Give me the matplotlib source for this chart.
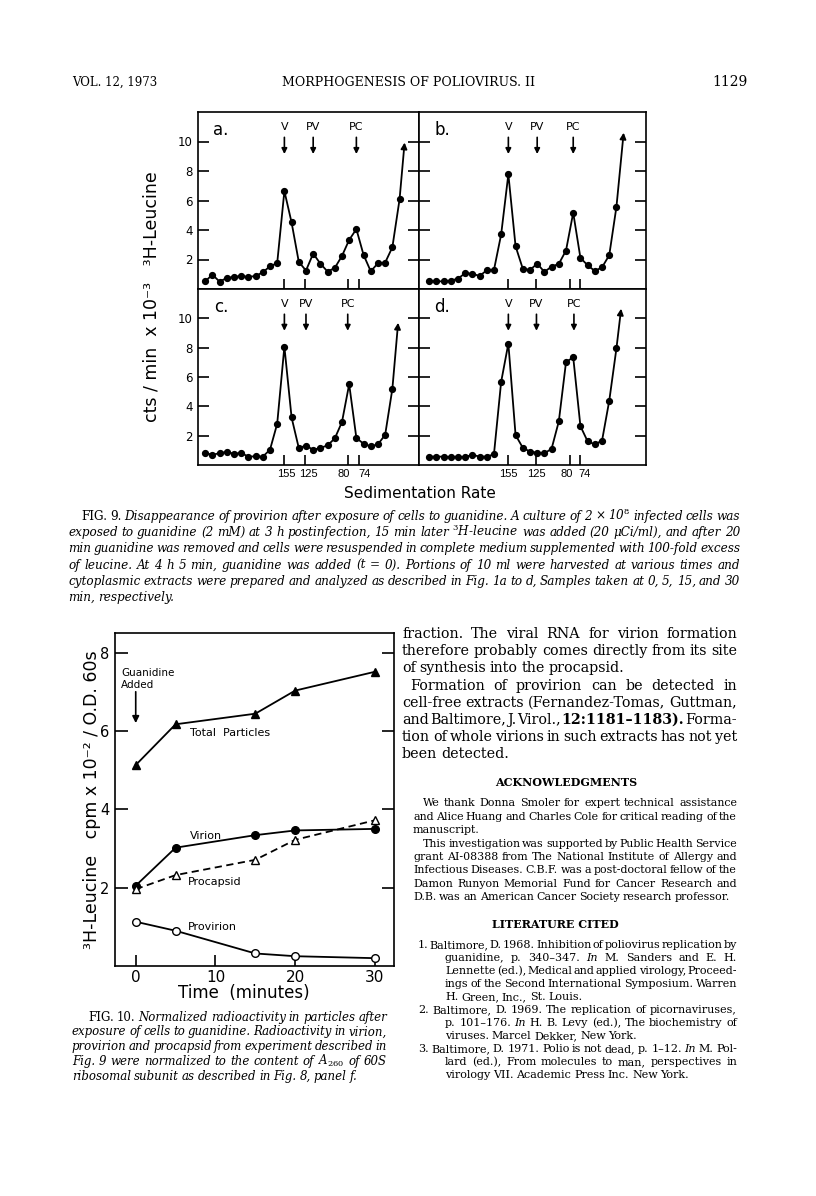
import numpy as np
import matplotlib.pyplot as plt
import matplotlib.transforms as mtransforms

W, H = 816, 1196
SERIF = ['DejaVu Serif']
SANS = ['DejaVu Sans']
plt.rcParams['mathtext.fontset'] = 'dejavuserif'

# ---------------- Fig. 9 data (cts/min x 10^-3 per fraction) ----------------
a_cpm = [0.52, 0.97, 0.50, 0.75, 0.82, 0.88, 0.82, 0.88, 1.13, 1.54, 1.75, 6.64, 4.51, 1.84,
         1.25, 2.40, 1.72, 1.18, 1.43, 2.24, 3.33, 4.06, 2.31, 1.20, 1.75, 1.79, 2.83, 6.08]
b_cpm = [0.52, 0.52, 0.52, 0.57, 0.70, 1.07, 1.04, 0.88, 1.27, 1.29, 3.70, 7.78, 2.90, 1.38,
         1.29, 1.72, 1.16, 1.52, 1.70, 2.61, 5.17, 2.11, 1.61, 1.22, 1.47, 2.29, 5.58]
c_cpm = [0.84, 0.68, 0.82, 0.88, 0.77, 0.82, 0.57, 0.59, 0.57, 1.04, 2.81, 8.07, 3.24, 1.16,
         1.32, 1.04, 1.16, 1.34, 1.81, 2.93, 5.51, 1.84, 1.45, 1.27, 1.41, 2.06, 5.19]
d_cpm = [0.57, 0.57, 0.57, 0.54, 0.57, 0.54, 0.70, 0.57, 0.57, 0.73, 5.67, 8.28, 2.04, 1.18,
         0.91, 0.84, 0.79, 1.11, 2.97, 7.01, 7.35, 2.65, 1.61, 1.41, 1.66, 4.38, 7.96]
# where the off-scale arrow ends
a_tip = (28.7, 9.93)
b_tip = (28.0, 10.6)
c_tip = (27.8, 9.7)
d_tip = (27.65, 10.66)
# fraction positions of V / PV / PC arrows
peak_names = ['V', 'PV', 'PC']
a_peaks = [12, 16, 22]
b_peaks = [12, 16, 21]
c_peaks = [12, 15.0, 20.8]
d_peaks = [12, 15.9, 21.1]
# sedimentation markers
sed_labels = ['155', '125', '80', '74']
left_marks = [12, 14.8, 20.85, 22.4]
right_marks = [12, 15.9, 20.5, 22.0]

# ---------------- Fig. 10 data ----------------
time_min = [0, 5, 15, 20, 30]
total = [5.13, 6.17, 6.44, 7.03, 7.51]
virion = [2.05, 3.02, 3.34, 3.46, 3.50]
procapsid = [1.96, 2.32, 2.71, 3.22, 3.72]
provirion = [1.13, 0.90, 0.32, 0.25, 0.20]

fig = plt.figure(figsize=(W / 100, H / 100), dpi=100)
rend = fig.canvas.get_renderer()


def box(x0, y0, x1, y1):
    return [x0 / W, 1 - y1 / H, (x1 - x0) / W, (y1 - y0) / H]


def words_of(text, y, size, style):
    arts = []
    for w in text.split():
        st, wt = style, 'normal'
        if w[0] == '|':
            w = w[1:]
            st = 'normal' if style == 'italic' else 'italic'
        elif w[0] == '#':
            w = w[1:]
            wt = 'bold'
        arts.append(fig.text(0, 1 - y / H, w, fontsize=size, family=SERIF, style=st,
                             weight=wt, va='baseline', ha='left'))
    return arts


def paragraph(lines, x1, y0, dy, size, style='normal'):
    # lines: (text, left x, justified?) ; font size is fitted so justified lines
    # keep roughly natural word spacing between their left x and x1
    ratios = []
    for text, x0, just in lines:
        if not just:
            continue
        arts = words_of(text, 0, size, style)
        nat = sum(t.get_window_extent(rend).width for t in arts)
        nat += size * 100 / 72 * 0.25 * (len(arts) - 1)
        ratios.append((x1 - x0) / nat)
        for t in arts:
            t.remove()
    size = size * float(np.median(ratios))
    for i, (text, x0, just) in enumerate(lines):
        y = y0 + dy * i + 0.3 * size * 100 / 72
        arts = words_of(text, y, size, style)
        ws = [t.get_window_extent(rend).width for t in arts]
        sp = size * 100 / 72 * 0.25
        if just and len(arts) > 1:
            sp = (x1 - x0 - sum(ws)) / (len(arts) - 1)
            if sp < 1.5:  # a bit too long: squeeze this line
                k = (x1 - x0 - 1.5 * (len(arts) - 1)) / sum(ws)
                for t in arts:
                    t.set_fontsize(size * k)
                ws = [t.get_window_extent(rend).width for t in arts]
                sp = (x1 - x0 - sum(ws)) / (len(arts) - 1)
        x = x0
        for t, w in zip(arts, ws):
            t.set_x(x / W)
            x += w + sp


# ---------------- header ----------------
fig.text(72 / W, 1 - 82 / H, 'VOL. 12, 1973', fontsize=8.5, family=SERIF, va='center')
fig.text(408 / W, 1 - 82 / H, 'MORPHOGENESIS OF POLIOVIRUS. II', fontsize=9, family=SERIF,
         va='center', ha='center')
fig.text(748 / W, 1 - 82 / H, '1129', fontsize=10, family=SERIF, va='center', ha='right')

# ---------------- Fig. 9 ----------------
panels = [
    ('a.', a_cpm, a_tip, a_peaks, left_marks, box(198, 112, 419, 289), (0, 30.7), True, False),
    ('b.', b_cpm, b_tip, b_peaks, right_marks, box(419, 112, 646, 289), (-0.4, 31.1), False, False),
    ('c.', c_cpm, c_tip, c_peaks, left_marks, box(198, 289, 419, 465), (0, 30.7), True, True),
    ('d.', d_cpm, d_tip, d_peaks, right_marks, box(419, 289, 646, 465), (-0.4, 31.1), False, True),
]
for letter, cpm, tip, peaks, marks, pos, xl, ylab, xlab in panels:
    ax = fig.add_axes(pos)
    x = np.arange(1, len(cpm) + 1)
    ax.plot(x, cpm, '-o', color='black', lw=1.3, ms=4.2)
    ax.annotate('', xy=tip, xytext=(x[-1], cpm[-1]),
                arrowprops=dict(arrowstyle='-|>', color='black', lw=1.3,
                                mutation_scale=9, shrinkA=0, shrinkB=0))
    for name, p in zip(peak_names, peaks):
        ax.annotate(name, xy=(p, 9.15), xytext=(p, 10.95), ha='center', va='center',
                    fontsize=8, family=SANS,
                    arrowprops=dict(arrowstyle='-|>', color='black', lw=1.2,
                                    mutation_scale=8, shrinkA=1.5, shrinkB=0))
    ax.text(xl[0] + 3.2, 10.8, letter, fontsize=12, family=SANS, va='center', ha='center')
    ax.set_xlim(*xl)
    ax.set_ylim(0, 12)
    ax.set_yticks([2, 4, 6, 8, 10])
    ax.set_yticklabels(['2', '4', '6', '8', '10'] if ylab else [])
    ax.set_xticks(marks)
    ax.set_xticklabels(sed_labels if xlab else [])
    ax.tick_params(axis='y', direction='in', length=8, width=1.2, left=True, right=True,
                   labelsize=8.5, pad=4)
    ax.tick_params(axis='x', direction='in', length=7, width=1.2, bottom=True, top=False,
                   labelsize=8, pad=3)
    if xlab:
        # nudge the crowded sedimentation labels apart (pixels)
        shifts = [2, 4, -4, 5] if ylab else [0, 0, -3, 4]
        for lab, s in zip(ax.get_xticklabels(), shifts):
            lab.set_family(['Liberation Sans'])
            lab.set_transform(lab.get_transform() +
                              mtransforms.ScaledTranslation(s / 100, 0, fig.dpi_scale_trans))
    for s in ax.spines.values():
        s.set_linewidth(1.2)

fig.text(152 / W, 1 - 297 / H, 'cts / min  x 10⁻³   ³H-Leucine', rotation=90, fontsize=12.5,
         family=SANS, ha='center', va='center')
fig.text(420 / W, 1 - 493 / H, 'Sedimentation Rate', fontsize=11, family=SANS,
         ha='center', va='center')

cap9 = [
    ('|FIG. |9. Disappearance of provirion after exposure of cells to guanidine. A culture of 2 × 10$^{8}$ infected cells was', 81, True),
    ('exposed to guanidine (2 mM) at 3 h postinfection, 15 min later $^{3}$H-leucine was added (20 μCi/ml), and after 20', 68, True),
    ('min guanidine was removed and cells were resuspended in complete medium supplemented with 100-fold excess', 68, True),
    ('of leucine. At 4 h 5 min, guanidine was added (t = 0). Portions of 10 ml were harvested at various times and', 68, True),
    ('cytoplasmic extracts were prepared and analyzed as described in Fig. 1a to d, Samples taken at 0, 5, 15, and 30', 68, True),
    ('min, respectively.', 68, False),
]
paragraph(cap9, 740, 516, 16.3, 9.5, style='italic')

# ---------------- Fig. 10 ----------------
ax = fig.add_axes(box(115, 633, 394, 966))
ax.plot(time_min, total, '-^', color='black', lw=1.3, ms=6)
ax.plot(time_min, virion, '-o', color='black', lw=1.3, ms=5.5)
ax.plot(time_min, procapsid, '--^', color='black', lw=1.3, ms=5.5, mfc='white', dashes=(4, 2.5))
ax.plot(time_min, provirion, '-o', color='black', lw=1.3, ms=5.5, mfc='white')
ax.set_xlim(-2.6, 32.4)
ax.set_ylim(0, 8.5)
ax.set_xticks([0, 10, 20, 30])
ax.set_yticks([2, 4, 6, 8])
ax.tick_params(axis='y', direction='in', length=9, width=1.2, left=True, right=True,
               labelsize=10.5, pad=4)
ax.tick_params(axis='x', direction='in', length=8, width=1.2, bottom=True, top=False,
               labelsize=11, pad=3)
for s in ax.spines.values():
    s.set_linewidth(1.2)
ax.text(-1.8, 7.32, 'Guanidine\nAdded', fontsize=7.5, family=SANS, ha='left', va='center',
        linespacing=1.3)
ax.annotate('', xy=(0, 6.2), xytext=(0, 7.0),
            arrowprops=dict(arrowstyle='-|>', color='black', lw=1.2, mutation_scale=10,
                            shrinkA=0, shrinkB=0))
ax.text(6.8, 5.94, 'Total  Particles', fontsize=8, family=SANS, va='center')
ax.text(6.85, 3.32, 'Virion', fontsize=8, family=SANS, va='center')
ax.text(6.6, 2.15, 'Procapsid', fontsize=8, family=SANS, va='center')
ax.text(6.6, 0.99, 'Provirion', fontsize=8, family=SANS, va='center')

fig.text(244 / W, 1 - 993 / H, 'Time  (minutes)', fontsize=12, family=SANS,
         ha='center', va='center')
fig.text(92 / W, 1 - 800 / H, '³H-Leucine   cpm x 10⁻² / O.D. 60s', rotation=90,
         fontsize=12.5, family=SANS, ha='center', va='center')

cap10 = [
    ('|FIG. |10. Normalized radioactivity in particles after', 88, True),
    ('exposure of cells to guanidine. Radioactivity in virion,', 72, True),
    ('provirion and procapsid from experiment described in', 72, True),
    ('Fig. 9 were normalized to the content of A$_{260}$ of 60S', 72, True),
    ('ribosomal subunit as described in Fig. 8, panel f.', 72, False),
]
paragraph(cap10, 387, 1017, 14.8, 9.3, style='italic')

# ---------------- right column text ----------------
body = [
    ('fraction. The viral RNA for virion formation', 402, True),
    ('therefore probably comes directly from its site', 402, True),
    ('of synthesis into the procapsid.', 402, False),
    ('Formation of provirion can be detected in', 410, True),
    ('cell-free extracts (Fernandez-Tomas, Guttman,', 402, True),
    ('and Baltimore, J. Virol., #12:1181–1183). Forma-', 402, True),
    ('tion of whole virions in such extracts has not yet', 402, True),
    ('been detected.', 402, False),
]
paragraph(body, 737, 634, 17.1, 10.5)

fig.text(566 / W, 1 - 783 / H, 'ACKNOWLEDGMENTS', fontsize=8, family=SERIF,
         weight='bold', ha='center', va='center')
ack = [
    ('We thank Donna Smoler for expert technical assistance', 423, True),
    ('and Alice Huang and Charles Cole for critical reading of the', 413, True),
    ('manuscript.', 413, False),
    ('This investigation was supported by Public Health Service', 423, True),
    ('grant AI-08388 from The National Institute of Allergy and', 413, True),
    ('Infectious Diseases. C.B.F. was a post-doctoral fellow of the', 413, True),
    ('Damon Runyon Memorial Fund for Cancer Research and', 413, True),
    ('D.B. was an American Cancer Society research professor.', 413, False),
]
paragraph(ack, 737, 803, 13.4, 8.3)

fig.text(555 / W, 1 - 925 / H, 'LITERATURE CITED', fontsize=8, family=SERIF,
         weight='bold', ha='center', va='center')
refs = [
    ('1. Baltimore, D. 1968. Inhibition of poliovirus replication by', 418, True),
    ('guanidine, p. 340–347. |In M. Sanders and E. H.', 445, True),
    ('Lennette (ed.), Medical and applied virology, Proceed-', 445, True),
    ('ings of the Second International Symposium. Warren', 445, True),
    ('H. Green, Inc., St. Louis.', 445, False),
    ('2. Baltimore, D. 1969. The replication of picornaviruses,', 418, True),
    ('p. 101–176. |In H. B. Levy (ed.), The biochemistry of', 445, True),
    ('viruses. Marcel Dekker, New York.', 445, False),
    ('3. Baltimore, D. 1971. Polio is not dead, p. 1–12. |In M. Pol-', 418, True),
    ('lard (ed.), From molecules to man, perspectives in', 445, True),
    ('virology VII. Academic Press Inc. New York.', 445, False),
]
paragraph(refs, 737, 945, 13.0, 8.3)

fig.savefig('out.png', dpi=100)
